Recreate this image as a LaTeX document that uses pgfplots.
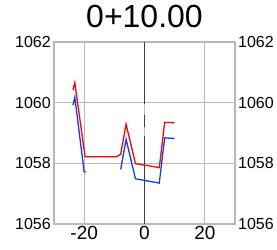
\documentclass[border=0pt]{standalone}
\usepackage{pgfplots}
\pgfplotsset{compat=1.18}
\usepackage{fontspec}
\setmainfont{Liberation Sans}
\definecolor{gridgray}{HTML}{B8B8B8}
\definecolor{cline}{HTML}{404040}
\definecolor{redl}{HTML}{FF0000}
\definecolor{bluel}{HTML}{0A3CFF}
\begin{document}
\begin{tikzpicture}[x=1pt,y=1pt]
\path[use as bounding box] (-54,-26) rectangle (223,224);
\begin{axis}[
  at={(0,0)}, anchor=south west,
  scale only axis, width=181pt, height=182pt,
  xmin=-30, xmax=30, ymin=1056, ymax=1062,
  xtick={-20,0,20}, xticklabels={-20,0,20},
  ytick={1056,1058,1060,1062},
  yticklabels={1056,1058,1060,1062},
  grid=major,
  major grid style={gridgray, line width=1.2pt},
  axis line style={gridgray, line width=1.2pt},
  tick style={draw=none},
  ticklabel pos=left,
  xticklabel style={font=\fontsize{19}{19}\selectfont, inner sep=1pt, yshift=-1pt},
  yticklabel style={font=\fontsize{16}{16}\selectfont, inner sep=3pt},
  /pgf/number format/assume math mode=true,
  clip=false,
  title={0+10.00},
  title style={font=\fontsize{32}{32}\selectfont, anchor=base, at={(0.5,1)}, yshift=9pt},
]
% grid line under centre line
\addplot[gridgray, line width=1.2pt, forget plot] coordinates {(0,1062) (0,1056)};
% centre line
\addplot[cline, line width=1.2pt, forget plot] coordinates {(0,1062) (0,1059.96)};
\addplot[cline, line width=1.2pt, forget plot] coordinates {(0,1059.59) (0,1059.20)};
\addplot[cline, line width=1.2pt, forget plot] coordinates {(0,1058.90) (0,1056)};
% red
\addplot[redl, line width=1.3pt] coordinates {
(-23.7,1060.42) (-23.1,1060.66) (-19.7,1058.22) (-9.2,1058.22) (-7.9,1058.30)
(-6.1,1059.29) (-3.0,1057.99) (4.9,1057.86) (6.7,1059.35) (10.0,1059.34)};
% blue
\addplot[bluel, line width=1.3pt] coordinates {
(-23.7,1059.92) (-23.1,1060.18) (-20.0,1057.72) (-19.4,1057.72)};
\addplot[bluel, line width=1.3pt] coordinates {
(-7.9,1057.80) (-6.1,1058.79) (-3.0,1057.49) (4.9,1057.35) (6.2,1058.44)
(6.7,1058.84) (10.0,1058.82)};
\end{axis}
\begin{axis}[
  at={(0,0)}, anchor=south west,
  scale only axis, width=181pt, height=182pt,
  xmin=-30, xmax=30, ymin=1056, ymax=1062,
  hide x axis, axis y line*=right,
  axis line style={draw=none},
  tick style={draw=none},
  ytick={1056,1058,1060,1062},
  yticklabels={1056,1058,1060,1062},
  yticklabel style={font=\fontsize{16}{16}\selectfont, inner sep=3pt},
]
\end{axis}
\end{tikzpicture}
\end{document}
